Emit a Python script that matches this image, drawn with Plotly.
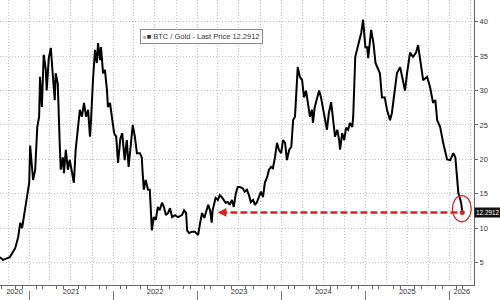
import plotly.graph_objects as go

dates = [
"2020-08-27","2020-09-09","2020-10-09","2020-11-01","2020-11-14","2020-11-23","2020-12-01","2020-12-14","2020-12-23",
"2021-01-01","2021-01-05","2021-01-14","2021-01-18","2021-01-27","2021-02-05","2021-02-13","2021-02-17","2021-02-25",
"2021-03-05","2021-03-14","2021-03-18","2021-03-27","2021-04-05","2021-04-13","2021-04-22","2021-04-26","2021-05-05",
"2021-05-14","2021-05-18","2021-05-27","2021-06-01","2021-06-09","2021-06-18","2021-06-26","2021-07-05","2021-07-14",
"2021-07-22","2021-08-01","2021-08-09","2021-08-18","2021-08-27","2021-09-05","2021-09-14","2021-09-22","2021-09-26",
"2021-10-05","2021-10-14","2021-10-22","2021-10-27","2021-11-05","2021-11-09","2021-11-18","2021-11-26","2021-12-05",
"2021-12-09","2021-12-18","2021-12-27","2022-01-05","2022-01-14","2022-01-22","2022-02-01","2022-02-09","2022-02-20",
"2022-03-01","2022-03-09","2022-03-18","2022-03-27","2022-04-05","2022-04-14","2022-04-27","2022-05-05","2022-05-09",
"2022-05-14","2022-05-22","2022-06-01","2022-06-09","2022-06-13","2022-06-18","2022-06-26","2022-07-05","2022-07-14",
"2022-07-22","2022-08-01","2022-08-09","2022-08-18","2022-08-27","2022-09-05","2022-09-14","2022-09-27","2022-10-09",
"2022-10-27","2022-11-05","2022-11-14","2022-11-18","2022-11-27","2022-12-09","2022-12-22","2023-01-05","2023-01-14",
"2023-01-22","2023-02-01","2023-02-09","2023-02-18","2023-02-26","2023-03-05","2023-03-09","2023-03-22","2023-04-01",
"2023-04-09","2023-04-18","2023-04-26","2023-05-05","2023-05-14","2023-05-22","2023-06-01","2023-06-09","2023-06-18",
"2023-06-26","2023-07-05","2023-07-18","2023-07-26","2023-08-05","2023-08-14","2023-08-22","2023-09-01","2023-09-09",
"2023-09-18","2023-09-26","2023-10-05","2023-10-14","2023-10-22","2023-11-01","2023-11-09","2023-11-18","2023-11-26",
"2023-12-05","2023-12-14","2023-12-22","2024-01-01","2024-01-09","2024-01-18","2024-01-26","2024-02-05","2024-02-14",
"2024-02-22","2024-03-01","2024-03-09","2024-03-13","2024-03-22","2024-04-01","2024-04-09","2024-04-18","2024-04-26",
"2024-05-05","2024-05-14","2024-05-18","2024-05-26","2024-06-05","2024-06-14","2024-06-22","2024-07-01","2024-07-09",
"2024-07-18","2024-07-26","2024-08-05","2024-08-14","2024-08-22","2024-09-01","2024-09-09","2024-09-13","2024-09-22",
"2024-10-01","2024-10-09","2024-10-18","2024-10-26","2024-11-05","2024-11-09","2024-11-18","2024-11-26","2024-12-05",
"2024-12-14","2024-12-22","2025-01-01","2025-01-09","2025-01-13","2025-01-26","2025-02-05","2025-02-14","2025-02-22",
"2025-03-05","2025-03-14","2025-03-26","2025-04-05","2025-04-18","2025-04-26","2025-05-01","2025-05-18","2025-06-01",
"2025-06-14","2025-06-22","2025-07-01","2025-07-14","2025-07-27","2025-08-09","2025-08-18","2025-08-26","2025-09-09",
"2025-09-26","2025-10-09","2025-10-22","2025-11-01","2025-11-09","2025-11-22","2025-12-05","2025-12-14","2025-12-22",
"2026-01-05","2026-01-18","2026-01-27","2026-02-05","2026-02-09","2026-02-18","2026-02-22","2026-02-26",
]
values = [
5.8,5.4,5.8,7.1,8.7,10.8,10.0,12.6,14.5,
16.6,22.0,18.9,17.0,18.5,24.7,26.2,32.0,27.6,
35.2,33.0,30.0,34.7,36.2,32.5,28.6,32.5,31.0,
21.8,18.5,20.3,18.0,21.4,18.5,19.9,18.0,16.6,
21.4,24.3,27.2,26.2,28.2,26.2,27.2,23.3,25.3,
31.5,35.9,34.0,36.9,34.4,36.3,32.5,33.0,30.0,
27.6,28.2,26.2,23.8,23.3,19.5,23.0,23.8,19.9,
22.8,18.9,22.4,25.0,23.3,20.9,20.9,20.3,18.0,
15.6,17.0,15.6,15.6,12.2,9.7,11.6,11.2,13.1,
12.6,13.7,13.1,11.9,12.2,12.9,11.6,11.9,11.6,
11.9,12.6,12.2,9.7,9.3,9.5,9.5,9.0,10.8,
12.2,11.5,12.6,13.4,12.6,10.8,12.6,14.4,14.1,
14.8,14.5,14.1,13.7,13.8,13.4,14.1,13.1,15.1,
16.0,16.0,15.8,15.3,15.6,14.8,13.8,14.1,13.4,
13.8,14.5,15.3,14.5,16.6,17.4,18.5,18.9,18.7,
20.3,22.4,21.4,20.9,22.8,22.4,19.9,21.4,21.8,
25.7,26.2,30.0,33.4,32.0,31.5,29.0,30.0,28.2,
26.2,27.2,25.3,27.6,29.0,30.0,29.0,27.2,25.7,
24.3,26.7,28.3,25.7,23.3,24.3,22.8,21.4,23.8,
22.8,24.6,24.3,25.3,24.7,26.2,34.9,35.9,36.9,
38.4,40.3,36.3,36.3,34.7,38.8,36.9,34.0,33.4,
32.5,29.0,29.0,27.2,25.7,26.7,28.2,32.5,33.4,
31.0,30.0,32.5,35.5,34.9,35.5,36.6,34.7,31.5,
32.0,30.5,28.2,28.6,25.7,24.7,22.4,21.0,20.0,
19.9,20.9,20.3,17.4,15.1,14.1,13.5,12.2912,
]
year_bounds = ["2021-01-01","2022-01-01","2023-01-01","2024-01-01","2025-01-01","2026-01-01"]
year_mids = ["2020-10-29","2021-07-02","2022-07-02","2023-07-02","2024-07-02","2025-07-02","2026-02-24"]
year_labels = ["2020","2021","2022","2023","2024","2025","2026"]
y_ticks = [5,10,15,20,25,30,35,40]
series_name = "BTC / Gold"
arrow_target = "2023-03-31"

x_range = ["2020-08-27","2026-04-18"]
y_range = [1.75, 43.15]
last_d, last_v = dates[-1], values[-1]
RED = "#d42424"
FONT = "Liberation Sans"
GRID = "#bdbdbd"

fig = go.Figure()
fig.add_trace(go.Scatter(x=dates, y=values, mode="lines",
                         line=dict(color="black", width=2), hoverinfo="skip", showlegend=False))
for ax in ["x2", "x3"]:
    fig.add_trace(go.Scatter(x=dates, y=values, mode="lines", xaxis=ax, opacity=0,
                             line=dict(width=0), hoverinfo="skip", showlegend=False))
fig.add_trace(go.Scatter(x=[last_d], y=[last_v], mode="markers",
                         marker=dict(color=RED, size=5), hoverinfo="skip", showlegend=False))

# dashed horizontal red line to the left
fig.add_shape(type="line", xref="x", yref="y", x0="2023-04-12", x1=last_d, y0=last_v, y1=last_v,
              line=dict(color=RED, width=2.5, dash="7px,3px"))
fig.add_annotation(x=arrow_target, y=last_v, xref="x", yref="y", text="", showarrow=True,
                   ax=9, ay=0, arrowhead=2, arrowsize=0.7, arrowwidth=2.5, arrowcolor=RED)
# red ellipse around last point
fig.add_shape(type="circle", xref="x", yref="y", x0="2026-01-14", x1="2026-04-06",
              y0=last_v - 1.35, y1=last_v + 2.45, line=dict(color=RED, width=1.3))

# legend-like box
fig.add_annotation(xref="paper", yref="paper", x=0.296, y=0.88, xanchor="left", yanchor="middle",
                   text=f"<span style='color:#b0b0b0;font-size:6px'>■</span>■ {series_name} - Last Price {last_v}",
                   showarrow=False, font=dict(family=FONT, size=7.5, color="#333"),
                   bordercolor="#8a8a8a", borderwidth=1, borderpad=2, bgcolor="white")
# last price tag
fig.add_annotation(xref="paper", yref="y", x=1.0, y=last_v, xanchor="left", xshift=0,
                   text=f"{last_v}", showarrow=False, font=dict(family=FONT, size=6.4, color="white"),
                   bgcolor="#111", borderpad=1)

fig.update_layout(
    width=500, height=300, margin=dict(l=0, r=26, t=0, b=0),
    paper_bgcolor="white", plot_bgcolor="white",
    font=dict(family=FONT, size=7.5, color="#333"),
    xaxis=dict(type="date", range=x_range, showgrid=True, dtick="M3", tick0="2021-01-01",
               gridcolor=GRID, griddash="1px,2px", gridwidth=1, ticks="", showticklabels=False,
               showline=True, linecolor="#666", linewidth=1, zeroline=False,
               minor=dict(ticks="outside", ticklen=3, dtick="M1", tick0="2021-01-01",
                          tickcolor="#666", showgrid=False)),
    xaxis2=dict(type="date", range=x_range, overlaying="x", anchor="free", position=0,
                tickmode="array", tickvals=year_bounds, ticks="inside", ticklen=9,
                tickcolor="#777", showticklabels=False, showgrid=False, showline=False, zeroline=False),
    xaxis3=dict(type="date", range=x_range, overlaying="x", anchor="free", position=0.05,
                tickmode="array", tickvals=year_mids, ticktext=year_labels, ticks="",
                tickfont=dict(family=FONT, size=7.5, color="#333"),
                showgrid=False, showline=False, zeroline=False),
    yaxis=dict(domain=[0.05, 1], side="right", range=y_range, tickmode="array", tickvals=y_ticks,
               showgrid=True, gridcolor=GRID, griddash="1px,2px", showline=True, linecolor="#666",
               ticks="outside", ticklen=3, tickcolor="#666", zeroline=False,
               tickfont=dict(family=FONT, size=7.5, color="#333")),
)
fig.write_html("out.html")
